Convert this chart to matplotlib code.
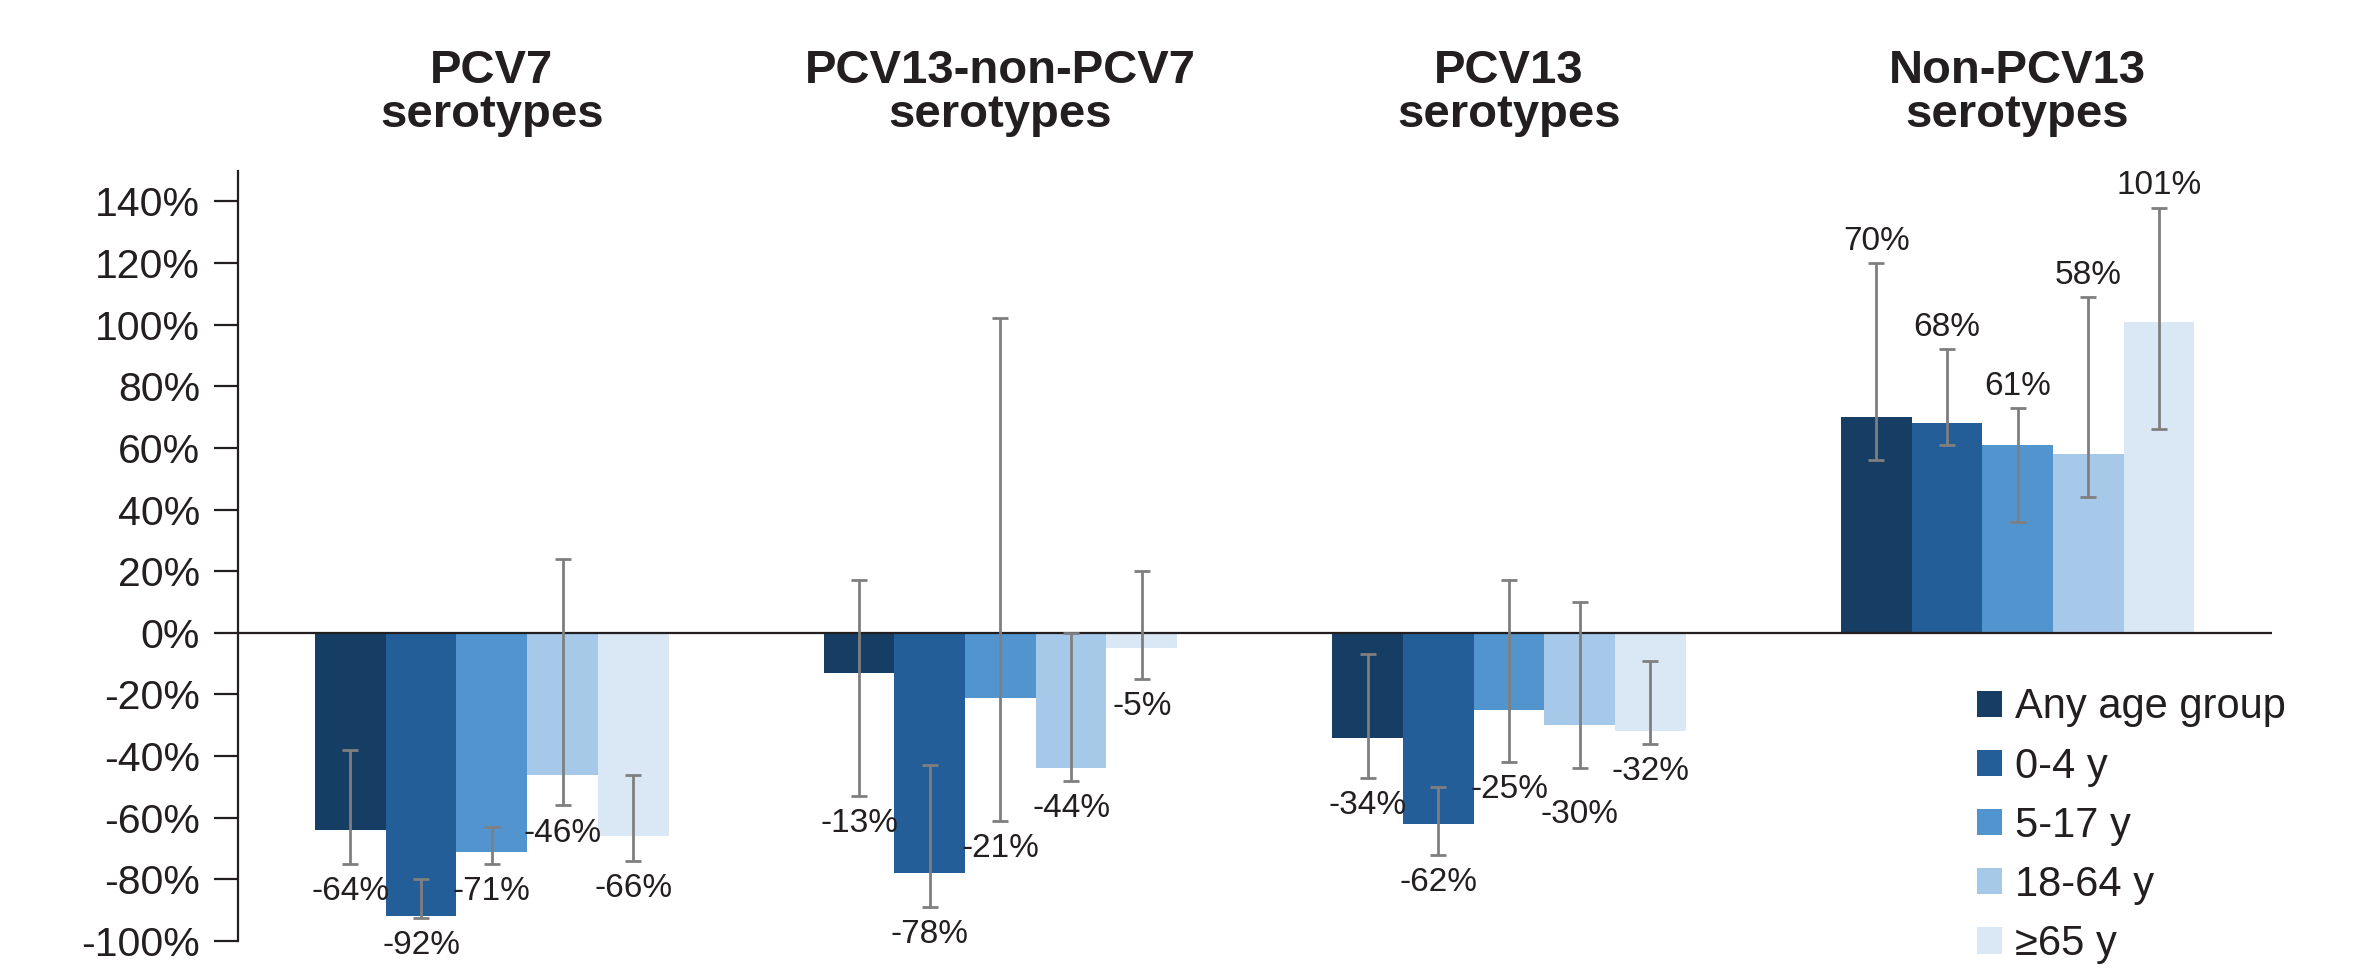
import matplotlib

matplotlib.use("Agg")
import matplotlib.pyplot as plt  # noqa: E402
import numpy as np  # noqa: E402
from matplotlib.patches import Patch  # noqa: E402

GROUPS = ["PCV7\nserotypes", "PCV13-non-PCV7\nserotypes",
          "PCV13\nserotypes", "Non-PCV13\nserotypes"]
AGE_GROUPS = ["Any age group", "0-4 y", "5-17 y", "18-64 y", "≥65 y"]

# % change in incidence, one list per age group (order follows GROUPS)
any_age = [-64, -13, -34, 70]
age_0_4 = [-92, -78, -62, 68]
age_5_17 = [-71, -21, -25, 61]
age_18_64 = [-46, -44, -30, 58]
age_65 = [-66, -5, -32, 101]

# 95% CI bounds
any_lo = [-75, -53, -47, 56]
any_hi = [-38, 17, -7, 120]
lo_0_4 = [-92.5, -89, -72, 61]
hi_0_4 = [-80, -43, -50, 92]
lo_5_17 = [-75, -61, -42, 36]
hi_5_17 = [-63, 102, 17, 73]
lo_18_64 = [-56, -48, -44, 44]
hi_18_64 = [24, 0, 10, 109]
lo_65 = [-74, -15, -36, 66]
hi_65 = [-46, 20, -9, 138]

VALUES = [any_age, age_0_4, age_5_17, age_18_64, age_65]
LOWS = [any_lo, lo_0_4, lo_5_17, lo_18_64, lo_65]
HIGHS = [any_hi, hi_0_4, hi_5_17, hi_18_64, hi_65]

COLORS = ["#163d64", "#235e98", "#5294ce", "#a6c8e9", "#dae7f5"]
TEXT = "#231f20"
# extra push (in % units) for labels that would collide
NUDGE = {(2, 3): 6}

plt.rcParams["font.family"] = ["Liberation Sans", "DejaVu Sans"]

fig = plt.figure(figsize=(23.8, 9.74), dpi=100)
ax = fig.add_axes([0.0998, 0.0339, 0.8548, 0.791])

x = np.arange(len(GROUPS))
w = 0.139
for i, (vals, lo, hi) in enumerate(zip(VALUES, LOWS, HIGHS)):
    xs = x + (i - 2) * w
    vals = np.array(vals, float)
    lo = np.array(lo, float)
    hi = np.array(hi, float)
    ax.bar(xs, vals, width=w, color=COLORS[i], linewidth=0, zorder=2,
           label=AGE_GROUPS[i])
    ax.errorbar(xs, vals, yerr=[vals - lo, hi - vals], fmt="none",
                ecolor="#7f7f7f", elinewidth=2.0, capsize=5.8, capthick=2.0,
                zorder=4)
    for g, (xx, v) in enumerate(zip(xs, vals)):
        if v >= 0:
            y = hi[g] + 7
        else:
            y = lo[g] - 9 - NUDGE.get((g, i), 0)
        ax.text(xx, y, f"{v:.0f}%", ha="center", va="center", fontsize=24,
                color=TEXT, clip_on=False, zorder=5)

ax.axhline(0, color=TEXT, lw=1.6, zorder=3)

for g, title in enumerate(GROUPS):
    ax.text(x[g], 1.158, title, transform=ax.get_xaxis_transform(),
            ha="center", va="top", fontsize=34, fontweight="bold",
            color=TEXT, linespacing=1.0)

ax.set_xlim(-0.5, 3.5)
ax.set_ylim(-100, 150)
ax.set_yticks(np.arange(-100, 141, 20))
ax.set_yticklabels([f"{t}%" for t in range(-100, 141, 20)])
ax.tick_params(axis="y", length=17, width=1.6, pad=10, labelsize=29.5,
               colors=TEXT)
ax.set_xticks([])
for side in ("top", "right", "bottom"):
    ax.spines[side].set_visible(False)
ax.spines["left"].set_linewidth(1.6)
ax.spines["left"].set_color(TEXT)

handles = [Patch(facecolor=c, edgecolor="none") for c in COLORS]
leg = fig.legend(handles, AGE_GROUPS, loc="upper left",
                 bbox_to_anchor=(0.8307, 0.2942), frameon=False,
                 fontsize=30, handlelength=0.6, handleheight=0.6,
                 handletextpad=0.31, labelspacing=0.46, borderpad=0,
                 borderaxespad=0)
for t in leg.get_texts():
    t.set_color(TEXT)

fig.savefig("out.png", dpi=100)
